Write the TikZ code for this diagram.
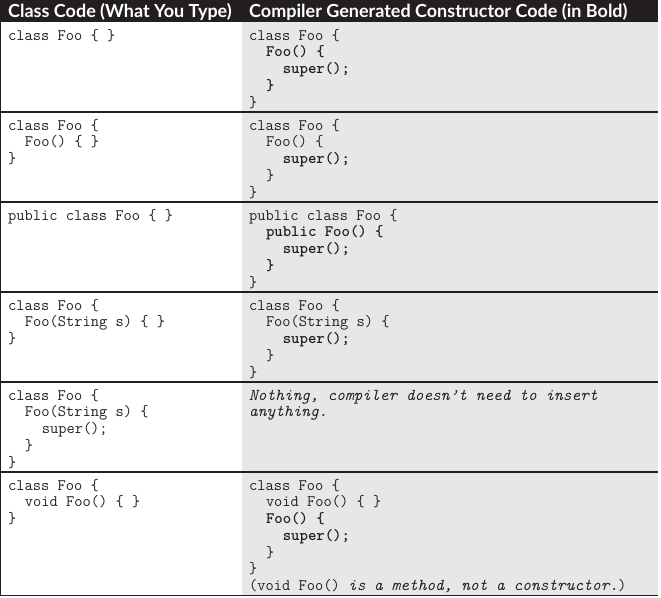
\documentclass[tikz,border=0pt]{standalone}
\usepackage{fontspec}
\newfontfamily\hdfont{Lato}
\definecolor{ink}{HTML}{231F20}
\definecolor{cellgray}{HTML}{E6E7E8}
\newcommand\codefont{\fontsize{16}{16.7}\selectfont\ttfamily}
\newcommand\itc{\fontsize{16.6}{16.7}\selectfont\itshape}
\newcommand\ind{\hspace*{1.05em}}
\newcommand\fst{\rule{0pt}{13pt}}
\tikzset{
  code/.style={anchor=north west, inner sep=0pt, align=left, font=\codefont, text=ink},
  head/.style={anchor=base west, inner sep=0pt, font={\hdfont\bfseries\fontsize{18}{20}\selectfont}, text=white},
  rule/.style={draw=ink, line width=1.3pt}
}
\begin{document}
\begin{tikzpicture}[x=1pt,y=1pt]
\useasboundingbox (0,-597) rectangle (661,0);
% fills
\fill[cellgray] (242,-22) rectangle (658,-595.5);
\fill[ink] (0,0) rectangle (658,-22);
% rules
\foreach \yy in {112,202,292,382,472} \draw[rule] (0,-\yy) -- (658,-\yy);
\draw[ink, line width=1.6pt] (0,-595.5) -- (658,-595.5);
\draw[rule] (0.65,-22) -- (0.65,-596.3);
% header
\node[head] (hl) at (8,-17.5) {Class Code (What You Type)};
\node[head] (hr) at (249,-17.5) {Compiler Generated Constructor Code (in Bold)};
% row 1
\node[code] (l1) at (8,-27) {\fst class Foo \{ \}};
\node[code] (r1) at (249,-27) {\fst class Foo \{\\
\ind\textbf{Foo() \{}\\
\ind\ind\textbf{super();}\\
\ind\textbf{\}}\\
\}};
% row 2
\node[code] (l2) at (8,-117) {\fst class Foo \{\\
\ind Foo() \{ \}\\
\}};
\node[code] (r2) at (249,-117) {\fst class Foo \{\\
\ind Foo() \{\\
\ind\ind\textbf{super();}\\
\ind \}\\
\}};
% row 3
\node[code] (l3) at (8,-207) {\fst public class Foo \{ \}};
\node[code] (r3) at (249,-207) {\fst public class Foo \{\\
\ind\textbf{public Foo() \{}\\
\ind\ind\textbf{super();}\\
\ind\textbf{\}}\\
\}};
% row 4
\node[code] (l4) at (8,-297) {\fst class Foo \{\\
\ind Foo(String s) \{ \}\\
\}};
\node[code] (r4) at (249,-297) {\fst class Foo \{\\
\ind Foo(String s) \{\\
\ind\ind\textbf{super();}\\
\ind \}\\
\}};
% row 5
\node[code] (l5) at (8,-387) {\fst class Foo \{\\
\ind Foo(String s) \{\\
\ind\ind super();\\
\ind \}\\
\}};
\node[code] (r5) at (249,-387) {\fst\itc Nothing, compiler doesn’t need to insert\\
\itc anything.};
% row 6
\node[code] (l6) at (8,-477) {\fst class Foo \{\\
\ind void Foo() \{ \}\\
\}};
\node[code] (r6) at (249,-477) {\fst class Foo \{\\
\ind void Foo() \{ \}\\
\ind\textbf{Foo() \{}\\
\ind\ind\textbf{super();}\\
\ind \}\\
\}\\
(void Foo() {\itc is a method, not a constructor.})};
\end{tikzpicture}
\end{document}
